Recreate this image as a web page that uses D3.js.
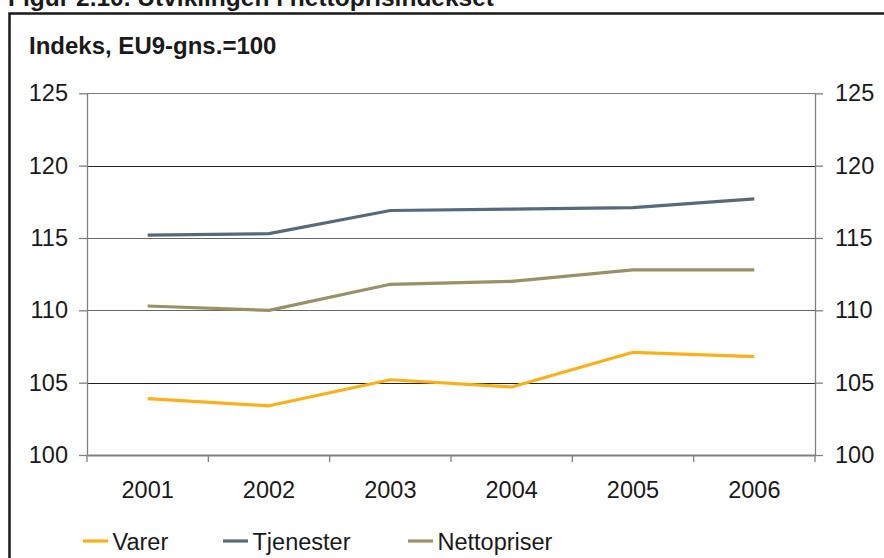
<!DOCTYPE html>
<html>
<head>
<meta charset="utf-8">
<script src="https://cdn.jsdelivr.net/npm/d3@7"></script>
<style>
  html, body { margin: 0; padding: 0; background: #fff; }
  svg { display: block; }
  text { font-family: "Liberation Sans", Arial, sans-serif; fill: #1a1a1a; }
</style>
</head>
<body>
<svg id="chart" width="884" height="558"></svg>
<script>
// Net price index by year, index EU9 average = 100
const years = ["2001", "2002", "2003", "2004", "2005", "2006"];
const varer = [103.9, 103.4, 105.2, 104.7, 107.1, 106.8];
const tjenester = [115.2, 115.3, 116.9, 117.0, 117.1, 117.7];
const nettopriser = [110.3, 110.0, 111.8, 112.0, 112.8, 112.8];
const yTicks = [100, 105, 110, 115, 120, 125];

const seriesNames = ["Varer", "Tjenester", "Nettopriser"];
const seriesColors = ["#fbb01a", "#566a7d", "#9a9166"];
const seriesValues = [varer, tjenester, nettopriser];

const svg = d3.select("#chart");

const plot = { left: 87, right: 815, top: 93.3, bottom: 455 };
const labelSize = "23.5px";

const x = d3.scaleBand().domain(years).range([plot.left, plot.right]).padding(0);
const y = d3.scaleLinear().domain([100, 125]).range([plot.bottom, plot.top]);

// Figure heading, running off the top of the page
svg.append("text")
  .attr("x", 8).attr("y", 6)
  .style("font-weight", "bold").style("font-size", "24.5px")
  .text("Figur 2.10. Utviklingen i nettoprisindekset");

// Frame around the figure
svg.append("rect")
  .attr("x", 9.5).attr("y", 13.5)
  .attr("width", 900).attr("height", 600)
  .attr("fill", "none").attr("stroke", "#1a1a1a").attr("stroke-width", 2.5);

// Unit label
svg.append("text")
  .attr("x", 29).attr("y", 54)
  .style("font-weight", "bold").style("font-size", "24px")
  .text("Indeks, EU9-gns.=100");

// Horizontal gridlines
svg.append("g")
  .selectAll("line")
  .data(yTicks.filter(d => d > 100))
  .join("line")
  .attr("x1", plot.left).attr("x2", plot.right)
  .attr("y1", d => Math.round(y(d)) + 0.5).attr("y2", d => Math.round(y(d)) + 0.5)
  .attr("stroke", d => d === 125 ? "#7a7a7a" : (d === 120 || d === 105 ? "#222" : "#666"))
  .attr("stroke-width", 1);

function styleAxis(g) {
  g.select(".domain").attr("stroke", "#808080").attr("stroke-width", 1.3);
  g.selectAll(".tick line").attr("stroke", "#808080").attr("stroke-width", 1.3);
  g.selectAll(".tick text")
    .style("font-size", labelSize)
    .style("font-family", "'Liberation Sans', Arial, sans-serif")
    .attr("fill", "#1a1a1a");
}

// Left value axis
svg.append("g")
  .attr("transform", `translate(${plot.left},0)`)
  .call(d3.axisLeft(y).tickValues(yTicks).tickSize(8).tickSizeOuter(0).tickPadding(11))
  .call(styleAxis);

// Right value axis
svg.append("g")
  .attr("transform", `translate(${plot.right},0)`)
  .call(d3.axisRight(y).tickValues(yTicks).tickSize(8).tickSizeOuter(0).tickPadding(12))
  .call(styleAxis);

// Category axis: labels centred in each band, ticks on band edges
const xAxis = svg.append("g")
  .attr("transform", `translate(0,${plot.bottom})`)
  .call(d3.axisBottom(x).tickSize(0).tickSizeOuter(0).tickPadding(26.5))
  .call(styleAxis);
xAxis.select(".domain").attr("stroke-width", 2);

const edges = years.map(d => x(d)).concat([x.range()[1]]);
svg.append("g")
  .selectAll("line")
  .data(edges)
  .join("line")
  .attr("x1", d => d).attr("x2", d => d)
  .attr("y1", plot.bottom).attr("y2", plot.bottom + 7)
  .attr("stroke", "#808080").attr("stroke-width", 1.3);

// Series lines
const line = d3.line()
  .x((d, i) => x(years[i]) + x.bandwidth() / 2)
  .y(d => y(d));

svg.append("g")
  .selectAll("path")
  .data(seriesValues)
  .join("path")
  .attr("d", d => line(d))
  .attr("fill", "none")
  .attr("stroke", (d, i) => seriesColors[i])
  .attr("stroke-width", 3.2)
  .attr("stroke-linejoin", "round");

// Legend
const legendX = [83, 223, 408];
const legend = svg.append("g")
  .selectAll("g")
  .data(seriesNames)
  .join("g")
  .attr("transform", (d, i) => `translate(${legendX[i]},541)`);
legend.append("line")
  .attr("x1", 0).attr("x2", 25)
  .attr("stroke", (d, i) => seriesColors[i])
  .attr("stroke-width", 3.2);
legend.append("text")
  .attr("x", 29.5).attr("y", 9)
  .style("font-size", labelSize)
  .text(d => d);
</script>
</body>
</html>
